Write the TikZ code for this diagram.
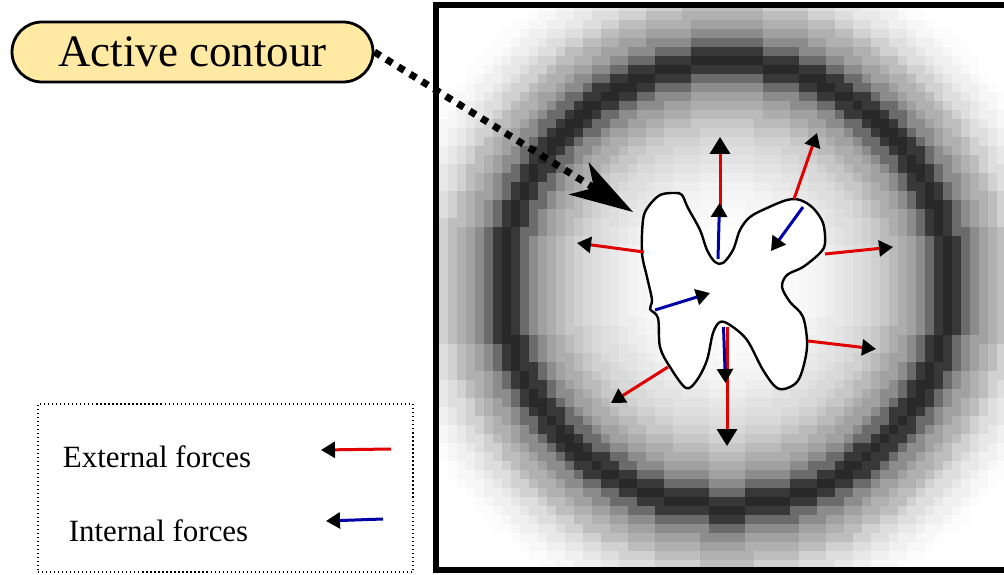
\documentclass[tikz,border=0pt]{standalone}
\usepackage{fontspec}
\setmainfont{Liberation Serif}
\usetikzlibrary{positioning,arrows.meta}
\definecolor{pillfill}{HTML}{FFE9A3}
\definecolor{extred}{HTML}{E00000}
\definecolor{intblue}{HTML}{0000A8}

\begin{document}
\begin{tikzpicture}[
  x=0.25mm, y=-0.25mm,
  tip/.style    = {-{Triangle[length=3.5mm, width=4mm, color=black]}},
  bigtip/.style = {-{Triangle[length=4.2mm, width=5mm, color=black]}},
  ext/.style    = {draw=extred, line width=0.75mm},
  int/.style    = {draw=intblue, line width=0.75mm},
  pill/.style   = {draw, line width=0.7mm, fill=pillfill, rounded corners=7.5mm,
                   minimum width=90.25mm, minimum height=15mm, inner sep=0pt,
                   font=\fontsize{32}{38}\selectfont},
  lbl/.style    = {font=\fontsize{22}{26}\selectfont, inner sep=0pt},
  dots/.style   = {line width=1.75mm, dash pattern=on 1.75mm off 1.75mm,
                   -{Stealth[length=16mm, width=9.5mm, inset=4.5mm, line width=0pt]}},
]
\clip (0,0) rectangle (1004,575);

% ================= edge map (pixel grid) ===============================
\begin{scope}
  \clip (436,5) rectangle (1004,569.5);
  \foreach \i in {0,...,62} {
    \foreach \j in {0,...,62} {
      \pgfmathsetmacro\dx{(443.5+9*\i-726.5)/9}
      \pgfmathsetmacro\dy{(6.5+9*\j-284.5)/9}
      \pgfmathsetmacro\r{veclen(\dx,\dy)-24.72}
      \pgfmathtruncatemacro\k{min(19,round(abs(\r)))}
      \ifdim\r pt<0pt
        \pgfmathtruncatemacro\g{{16,22,42,55,63,68,73,78,82,85,87,89,91,93,95,96,97,98,99,100}[\k]}
      \else
        \pgfmathtruncatemacro\g{{16,22,42,55,63,69,74,82,87,91,94,97,99,100,100,100,100,100,100,100}[\k]}
      \fi
      \ifnum\g<100
        \fill[white!\g!black] (439+9*\i,2+9*\j) rectangle ++(9.3,9.3);
      \fi
    }
  }
\end{scope}
\draw[line width=1.5mm] (436,5) rectangle (1012,569.5);

% ================= contour =============================================
\draw[line width=0.6mm, fill=white] plot[smooth cycle, tension=0.55] coordinates {
  (675,193) (660,195) (648,207) (643,220) (642,253) (647,277) (652,300)
  (650,309) (658,318) (660,347) (670,367) (686,388) (697,380) (707,360)
  (713,333) (720,322) (730,325) (747,340) (763,370) (777,388) (790,387)
  (800,377) (807,347) (803,317) (790,302) (782,287) (787,275) (803,267)
  (820,253) (825,243) (823,223) (813,208) (800,200) (787,200) (767,208)
  (750,217) (740,230) (733,250) (723,263) (715,262) (707,250) (700,230)
  (688,208) (682,195)};

% ================= forces ==============================================
\draw[ext, bigtip] (720,207) -- (720,137);
\draw[ext, tip]    (794,199) -- (817,133);
\draw[ext, tip]    (644,252) -- (577,243);
\draw[ext, tip]    (825,254) -- (893,247);
\draw[ext, tip]    (808,341) -- (876,349);
\draw[ext, tip]    (668,367) -- (611,403);
\draw[ext, bigtip] (727,327) -- (727,446);

\draw[int, tip] (718,259)   -- (719.5,203);
\draw[int, tip] (803,207)   -- (771,251);
\draw[int, tip] (655,310)   -- (710,293);
\draw[int, tip] (723.5,327) -- (725.5,383);

% ================= label ===============================================
\node[pill] (lab) at (192.5,52) {Active contour};
\coordinate (cttip) at (633,212);
\draw[dots] (lab.east) -- (cttip);

% ================= legend ==============================================
\node[draw, dotted, line width=0.3mm, minimum width=93.75mm,
      minimum height=42mm] (legend) at (225.5,488) {};
\node[lbl] (extlbl) at (157,457) {External forces};
\node[lbl] (intlbl) at (158.5,531) {Internal forces};
\coordinate (extA) at (391,449);
\coordinate (extB) at (321,450);
\coordinate (intA) at (383,519);
\coordinate (intB) at (326,521);
\draw[ext, tip] (extA) -- (extB);
\draw[int, tip] (intA) -- (intB);

\end{tikzpicture}
\end{document}
